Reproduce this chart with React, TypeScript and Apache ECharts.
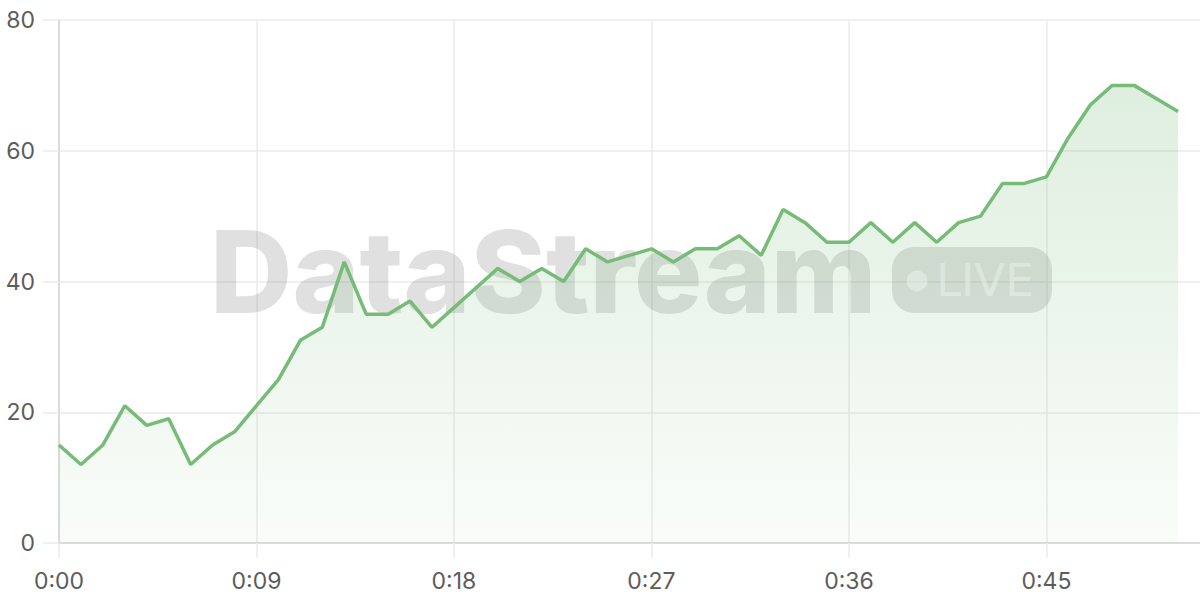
import { useEffect, useRef } from "react";
import * as echarts from "echarts";

// one reading per minute, 0:00 .. 0:51 (axis runs one step further, to 0:52)
const minuteLabels = Array.from({ length: 53 }, (_, i) => `0:${String(i).padStart(2, "0")}`);

const values = [
  15, 12, 15, 21, 18, 19, 12, 15, 17, 21,
  25, 31, 33, 43, 35, 35, 37, 33, 36, 39,
  42, 40, 42, 40, 45, 43, 44, 45, 43, 45,
  45, 47, 44, 51, 49, 46, 46, 49, 46, 49,
  46, 49, 50, 55, 55, 56, 62, 67, 70, 70,
  68, 66
];

const yTicks = { min: 0, max: 80, interval: 20 };

const LINE = "#76bb78";
const LABEL = "#5c5c5c";
const GRID = "#ebebeb";
const AXIS = "#d4d4d4";
const FONT = "Inter, 'DejaVu Sans', sans-serif";
const MARK = "rgba(120,120,120,0.23)";

export default function App() {
  const ref = useRef<HTMLDivElement | null>(null);

  useEffect(() => {
    document.body.style.margin = "0";
    if (!ref.current) {
      return;
    }
    const chart = echarts.init(ref.current, undefined, { renderer: "svg" });

    chart.setOption({
      animation: false,
      backgroundColor: "#ffffff",
      grid: { left: 59, right: 0, top: 20, bottom: 57, containLabel: false },
      textStyle: { fontFamily: FONT },
      xAxis: {
        type: "category",
        boundaryGap: false,
        data: minuteLabels,
        axisLine: { lineStyle: { color: AXIS, width: 1.5 } },
        axisTick: { show: true, length: 15, interval: 8, lineStyle: { color: GRID, width: 1.5 } },
        axisLabel: { interval: 8, margin: 26, color: LABEL, fontSize: 23, fontFamily: FONT },
        splitLine: { show: true, interval: 8, lineStyle: { color: GRID, width: 1.5 } }
      },
      yAxis: {
        type: "value",
        min: yTicks.min,
        max: yTicks.max,
        interval: yTicks.interval,
        axisLine: { show: true, lineStyle: { color: AXIS, width: 1.5 } },
        axisTick: { show: true, length: 16, lineStyle: { color: GRID, width: 1.5 } },
        axisLabel: { margin: 24, color: LABEL, fontSize: 23, fontFamily: FONT },
        splitLine: { show: true, lineStyle: { color: GRID, width: 1.5 } }
      },
      // watermark, kept under the series
      graphic: [
        {
          type: "text",
          z: 1,
          silent: true,
          style: {
            text: "DataStream",
            x: 210,
            y: 271,
            align: "left",
            verticalAlign: "middle",
            fontSize: 114,
            fontWeight: 800,
            fontFamily: FONT,
            fill: MARK
          }
        },
        {
          type: "rect",
          z: 1,
          silent: true,
          shape: { x: 892, y: 247, width: 160, height: 66, r: 22 },
          style: { fill: MARK }
        },
        {
          type: "circle",
          z: 1,
          silent: true,
          shape: { cx: 917, cy: 281, r: 10.5 },
          style: { fill: "rgba(255,255,255,0.5)" }
        },
        {
          type: "text",
          z: 1,
          silent: true,
          style: {
            text: "LIVE",
            x: 936,
            y: 280,
            align: "left",
            verticalAlign: "middle",
            fontSize: 45,
            fontWeight: 500,
            fontFamily: "'DejaVu Sans', sans-serif",
            fill: "rgba(255,255,255,0.5)"
          }
        }
      ],
      series: [
        {
          type: "line",
          data: values,
          z: 2,
          showSymbol: false,
          symbol: "none",
          lineStyle: { color: LINE, width: 3.5 },
          areaStyle: {
            color: new echarts.graphic.LinearGradient(0, 0, 0, 1, [
              { offset: 0, color: "rgba(118,187,120,0.34)" },
              { offset: 1, color: "rgba(118,187,120,0.06)" }
            ])
          }
        }
      ]
    });

    return () => {
      chart.dispose();
    };
  }, []);

  return <div ref={ref} style={{ width: 1200, height: 600 }} />;
}
